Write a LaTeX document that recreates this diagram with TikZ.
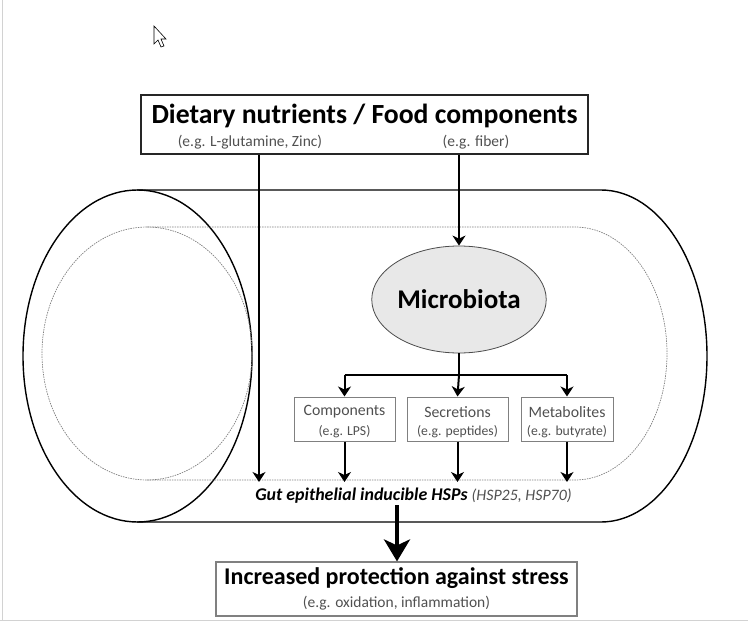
\documentclass[tikz,border=0pt]{standalone}
\usepackage{fontspec}
\setmainfont{Carlito}
\usetikzlibrary{shapes.geometric,arrows.meta}
\definecolor{txtgray}{HTML}{505050}
\definecolor{boxgray}{HTML}{808080}
\tikzset{
  arr/.style={line width=2pt,-{Stealth[length=10pt,width=13pt,inset=3pt]}},
  bigarr/.style={line width=4.5pt,-{Stealth[length=22pt,width=26pt,inset=6pt]}},
  tube/.style={line width=1.4pt,black},
  inner/.style={line width=0.7pt,gray,dash pattern=on 1.5pt off 1pt},
  smallbox/.style={draw=boxgray,line width=1pt,inner sep=0pt},
  sub/.style={text=txtgray,font=\fontsize{15.5}{17}\selectfont,inner sep=0pt},
  boxtxt/.style={text=txtgray,inner sep=0pt,align=center},
}
\begin{document}
\begin{tikzpicture}[x=1pt,y=-1pt]
\useasboundingbox (0,0) rectangle (748,621);
% screenshot frame
\draw[gray!35,line width=1pt] (2.5,0) -- (2.5,621);
\draw[gray!35,line width=1pt] (0,620) -- (748,620);
% cursor
\draw[line width=0.6pt,fill=white] (154,26) -- (154,44) -- (158,40) -- (161,47) -- (164,46) -- (161,39) -- (166,39) -- cycle;
% outer tube
\draw[tube] (137,190) -- (601,190) arc[start angle=-90,end angle=90,x radius=106,y radius=166] -- (137,522);
\draw[tube] (137.5,356) ellipse[x radius=114.5,y radius=166];
% inner dashed tube
\draw[inner] (147,227) -- (575,227) arc[start angle=-90,end angle=90,x radius=92,y radius=126.5] -- (147,480);
\draw[inner] (147,353.5) ellipse[x radius=105,y radius=126.5];
% top box
\node[draw=black!85,line width=1.5pt,minimum width=447pt,minimum height=59pt,inner sep=0pt] (top) at (364.5,124.5) {};
\node[inner sep=0pt,font=\fontsize{27.7}{29}\bfseries\selectfont] (title) at (364.5,116) {Dietary nutrients / Food components};
\node[sub] (subL) at (250,142) {(e.g. L-glutamine, Zinc)};
\node[sub] (subR) at (476,142) {(e.g. fiber)};
% microbiota
\node[ellipse,draw=black!70,line width=0.8pt,fill=black!9,minimum width=170pt,minimum height=107pt,inner sep=0pt,font=\fontsize{27}{29}\bfseries\selectfont] (mic) at (459,299.5) {Microbiota};
% small boxes
\node[smallbox,minimum width=101pt,minimum height=44pt] (comp) at (344.5,419) {};
\node[boxtxt] at (344.5,412) {\fontsize{15.8}{17}\selectfont Components};
\node[boxtxt] at (344.5,432) {\fontsize{13.7}{15}\selectfont (e.g. LPS)};
\node[smallbox,minimum width=101pt,minimum height=44pt] (sec) at (457.5,419) {};
\node[boxtxt] at (457.5,412) {\fontsize{15.8}{17}\selectfont Secretions};
\node[boxtxt] at (457.5,432) {\fontsize{13.7}{15}\selectfont (e.g. peptides)};
\node[smallbox,minimum width=92pt,minimum height=44pt] (met) at (567,419) {};
\node[boxtxt] at (567,412) {\fontsize{15.8}{17}\selectfont Metabolites};
\node[boxtxt] at (567,432) {\fontsize{13.7}{15}\selectfont (e.g. butyrate)};
% HSP text
\node[inner sep=0pt,anchor=base] (hsp) at (413.5,500) {\fontsize{17.9}{19}\bfseries\itshape\selectfont Gut epithelial inducible HSPs \textcolor{txtgray}{\mdseries\fontsize{15.9}{17}\selectfont(HSP25, HSP70)}};
\coordinate (hL) at (259,482);
% bottom box
\node[draw=boxgray,line width=1.1pt,minimum width=361pt,minimum height=54pt,inner sep=0pt] (bot) at (396.5,589) {};
\node[inner sep=0pt,font=\fontsize{24}{26}\bfseries\selectfont] at (396.5,578) {Increased protection against stress};
\node[sub] at (396.5,603) {(e.g. oxidation, inflammation)};
% connectors
\draw[arr] (top.south -| hL) -- (hL);
\draw[arr] (top.south -| mic.north) -- (mic.north);
\draw[line width=2pt] (mic.south) -- (mic.south |- 0,375) coordinate (br);
\draw[line width=2pt] (br -| comp.north) -- (br -| met.north);
\draw[arr] (br -| comp.north) -- (comp.north);
\draw[arr] (br) -- (sec.north);
\draw[arr] (br -| met.north) -- (met.north);
\draw[arr] (comp.south) -- (comp.south |- hL);
\draw[arr] (sec.south) -- (sec.south |- hL);
\draw[arr] (met.south) -- (met.south |- hL);
\draw[bigarr] (397,505) -- (bot.north -| 397,0);
\end{tikzpicture}
\end{document}
